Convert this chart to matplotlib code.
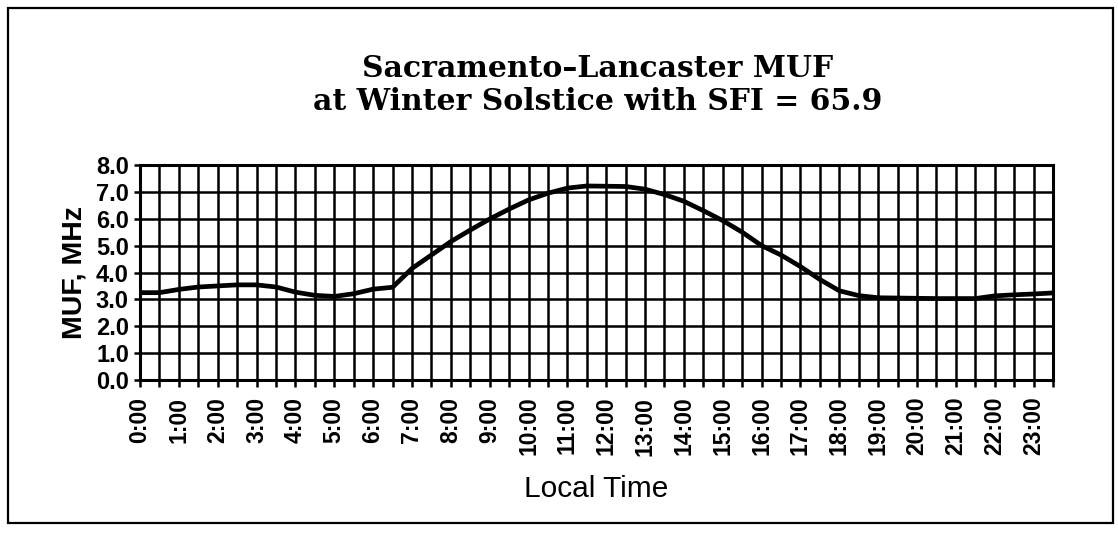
import matplotlib
matplotlib.use("Agg")
import matplotlib.pyplot as plt
from matplotlib.patches import Rectangle
from matplotlib.ticker import MultipleLocator, FormatStrFormatter

# --- data (half-hour steps, 0:00 .. 23:30) ---
hours = [h * 0.5 for h in range(48)]
muf = [3.25, 3.25, 3.37, 3.46, 3.50, 3.54, 3.54, 3.46,
       3.27, 3.15, 3.11, 3.21, 3.38, 3.45, 4.15, 4.65,
       5.15, 5.58, 5.99, 6.36, 6.70, 6.95, 7.14, 7.22,
       7.21, 7.20, 7.10, 6.90, 6.65, 6.30, 5.93, 5.50,
       5.00, 4.65, 4.22, 3.74, 3.32, 3.14, 3.06, 3.05,
       3.04, 3.03, 3.03, 3.03, 3.13, 3.17, 3.20, 3.24]
hour_labels = [f"{h}:00" for h in range(24)]
y_ticks = [0, 1, 2, 3, 4, 5, 6, 7, 8]

title_lines = "Sacramento\u2013Lancaster MUF\nat Winter Solstice with SFI = 65.9"

W, H = 1118, 534
fig = plt.figure(figsize=(W / 100, H / 100), dpi=100)
fig.patch.set_facecolor("white")

# outer frame
fig.patches.append(Rectangle((8 / W, 1 - 523 / H), (1113 - 8) / W, (523 - 8) / H,
                             transform=fig.transFigure, fill=False,
                             edgecolor="black", linewidth=1.6))

ax = fig.add_axes([140 / W, 1 - 380 / H, (1053 - 140) / W, (380 - 165) / H])
ax.plot(hours, muf, color="black", linewidth=3.4, solid_capstyle="butt",
        solid_joinstyle="round", zorder=3)

ax.set_xlim(0, 23.5)
ax.set_ylim(0, 8)
ax.set_xticks(list(range(24)))
ax.set_xticklabels(hour_labels, rotation=90, fontsize=16.5, fontweight="bold",
                   family="Liberation Sans")
ax.xaxis.set_minor_locator(MultipleLocator(0.5))
ax.set_yticks(y_ticks)
ax.yaxis.set_major_formatter(FormatStrFormatter("%.1f"))
for lab in ax.get_yticklabels():
    lab.set_fontsize(17)
    lab.set_fontweight("bold")
    lab.set_family("Liberation Sans")

ax.grid(True, which="both", axis="x", color="black", linewidth=1.8)
ax.grid(True, which="major", axis="y", color="black", linewidth=1.8)
ax.tick_params(axis="x", which="both", direction="out", length=5, width=1.8, pad=7)
ax.tick_params(axis="y", which="both", direction="out", length=4, width=1.8, pad=4)
for s in ax.spines.values():
    s.set_linewidth(2.2)
    s.set_color("black")

ax.set_xlabel("Local Time", fontsize=21.5, family="Liberation Sans", labelpad=14)
ax.set_ylabel("MUF, MHz", fontsize=20.5, fontweight="bold", family="Liberation Sans",
              labelpad=6)

fig.text(598 / W, 1 - 85 / H, title_lines, ha="center", va="center",
         fontsize=21.5, fontweight="bold", family="DejaVu Serif", linespacing=1.15)

fig.savefig("out.png", dpi=100, facecolor="white")
